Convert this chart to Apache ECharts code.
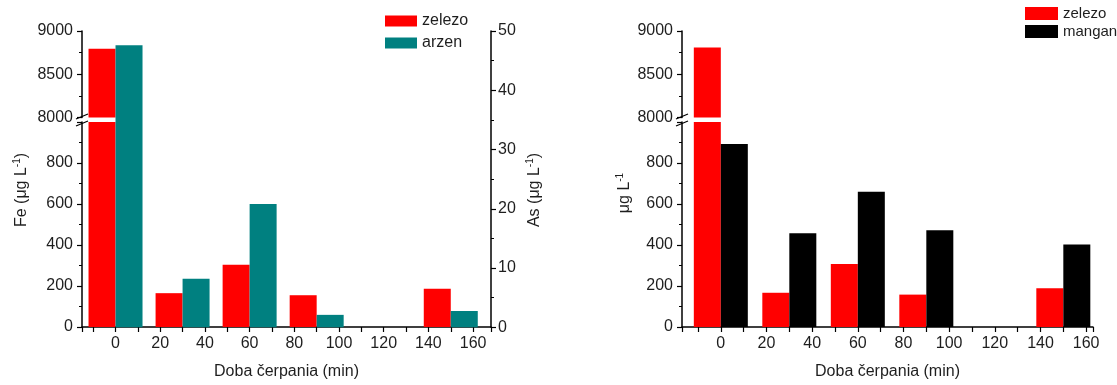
<!DOCTYPE html>
<html>
<head>
<meta charset="utf-8">
<title>zelezo / arzen / mangan</title>
<script src="https://cdn.jsdelivr.net/npm/echarts@6/dist/echarts.min.js"></script>
<style>
    html, body { margin: 0; padding: 0; background: #fff; }
    #chart { width: 1117px; height: 385px; }
</style>
</head>
<body>
<div id="chart"></div>
<script>
// 取样时间 (min)
const times = [0, 30, 60, 90, 120, 150];

// 左图: zelezo (Fe) + arzen (As)
const feLeft = [8795, 165, 304, 155, 0, 187];
const asLeft = [47.6, 8.2, 20.8, 2.1, 0, 2.75];

// 右图: zelezo (Fe) + mangan (Mn)
const feRight = [8810, 167, 307, 158, 0, 189];
const mnRight = [893, 457, 660, 472, 0, 403];

// 坐标轴范围 / 刻度 [min, max, interval]
const feUpperTicks = [8000, 9000, 500];
const feLowerTicks = [0, 1000, 200];
const asTicks = [0, 50, 10];
const xLabelStep = 20;

const FONT = 'Liberation Sans, Arial, sans-serif';
const TEXT = '#1e1e1e';
const RED = '#ff0000';
const TEAL = '#008080';

document.addEventListener('DOMContentLoaded', () => {
    initChart();
});

function pair(xs, ys) {
    return xs.map((x, i) => [x, ys[i]]);
}

function xAxisOf(gridIndex, min, max, visible) {
    return {
        type: 'value',
        gridIndex: gridIndex,
        min: min,
        max: max,
        minInterval: 10,
        maxInterval: 10,
        show: visible,
        name: 'Doba čerpania (min)',
        nameLocation: 'middle',
        nameGap: 37,
        nameTextStyle: { color: TEXT, fontSize: 16, fontFamily: FONT },
        axisLine: { onZero: false, lineStyle: { color: '#000', width: 1.5 } },
        axisTick: { length: 5, lineStyle: { color: '#000', width: 1.2 } },
        axisLabel: {
            color: TEXT,
            fontSize: 16,
            fontFamily: FONT,
            margin: 9,
            formatter: (v) => (v % xLabelStep === 0 ? String(v) : '')
        },
        splitLine: { show: false }
    };
}

function yAxisOf(gridIndex, ticks, position, hideMax) {
    return {
        type: 'value',
        gridIndex: gridIndex,
        position: position,
        min: ticks[0],
        max: ticks[1],
        interval: ticks[2],
        axisLine: { show: true, onZero: false, lineStyle: { color: '#000', width: 1.5 } },
        axisTick: { show: true, length: 5, lineStyle: { color: '#000', width: 1.2 } },
        minorTick: { show: true, splitNumber: 2, length: 3, lineStyle: { color: '#000', width: 1 } },
        axisLabel: {
            color: TEXT,
            fontSize: 16,
            fontFamily: FONT,
            margin: position === 'right' ? 7 : 9,
            formatter: (v) => (hideMax && v === ticks[1] ? '' : String(v))
        },
        splitLine: { show: false }
    };
}

function barOf(name, xi, yi, data, color) {
    return {
        name: name,
        type: 'bar',
        xAxisIndex: xi,
        yAxisIndex: yi,
        data: data,
        barWidth: 27,
        barGap: '0%',
        clip: true,
        itemStyle: { color: color },
        emphasis: { disabled: true }
    };
}

function axisTitle(x, y, text) {
    return {
        type: 'text',
        x: x,
        y: y,
        rotation: Math.PI / 2,
        style: {
            text: text,
            fill: TEXT,
            font: '16px ' + FONT,
            align: 'center',
            verticalAlign: 'middle',
            rich: {
                sup: { fontSize: 10, fontFamily: FONT, fill: TEXT, padding: [0, 0, 9, 0] }
            }
        }
    };
}

function breakMarks(axisX, yTop, yBottom) {
    const marks = [];
    [yTop, yBottom].forEach((y) => {
        marks.push({
            type: 'line',
            shape: { x1: axisX - 6, y1: y + 2.5, x2: axisX + 6, y2: y - 2.5 },
            style: { stroke: '#000', lineWidth: 1.2 }
        });
    });
    return marks;
}

function initChart() {
    const chartDom = document.getElementById('chart');
    const myChart = echarts.init(chartDom, null, { renderer: 'canvas' });

    const option = {
        backgroundColor: '#fff',
        animation: false,
        textStyle: { fontFamily: FONT },
        grid: [
            { left: 82, top: 31, width: 409, height: 86.5 },   // 左上 Fe
            { left: 82, top: 122, width: 409, height: 205.3 }, // 左下 Fe
            { left: 82, top: 31, width: 409, height: 296.3 },  // 左 As
            { left: 682, top: 31, width: 411, height: 86.5 },  // 右上
            { left: 682, top: 122, width: 411, height: 205.3 } // 右下
        ],
        xAxis: [
            xAxisOf(0, -15, 168, false),
            xAxisOf(1, -15, 168, true),
            xAxisOf(2, -15, 168, false),
            xAxisOf(3, -17, 163, false),
            xAxisOf(4, -17, 163, true)
        ],
        yAxis: [
            yAxisOf(0, feUpperTicks, 'left', false),
            yAxisOf(1, feLowerTicks, 'left', true),
            yAxisOf(2, asTicks, 'right', false),
            yAxisOf(3, feUpperTicks, 'left', false),
            yAxisOf(4, feLowerTicks, 'left', true)
        ],
        legend: [
            {
                data: ['zelezo', 'arzen'],
                orient: 'vertical',
                left: 380,
                top: 8,
                itemWidth: 32,
                itemHeight: 11,
                itemGap: 6,
                icon: 'rect',
                textStyle: { color: TEXT, fontSize: 16, fontFamily: FONT }
            },
            {
                data: ['zelezo', 'mangan'],
                orient: 'vertical',
                left: 1020,
                top: 1,
                itemWidth: 33,
                itemHeight: 13,
                itemGap: 3,
                icon: 'rect',
                textStyle: { color: TEXT, fontSize: 15, fontFamily: FONT }
            }
        ],
        series: [
            // 左图 —— 占位系列让柱子左右排开
            barOf('zelezo', 0, 0, pair(times, feLeft), RED),
            barOf('_pad0', 0, 0, [], 'transparent'),
            barOf('zelezo', 1, 1, pair(times, feLeft), RED),
            barOf('_pad1', 1, 1, [], 'transparent'),
            barOf('_pad2', 2, 2, [], 'transparent'),
            barOf('arzen', 2, 2, pair(times, asLeft), TEAL),
            // 右图
            barOf('zelezo', 3, 3, pair(times, feRight), RED),
            barOf('_pad3', 3, 3, [], 'transparent'),
            barOf('zelezo', 4, 4, pair(times, feRight), RED),
            barOf('mangan', 4, 4, pair(times, mnRight), '#000')
        ],
        graphic: [
            axisTitle(22, 190, 'Fe (μg L{sup|-1})'),
            axisTitle(535, 190, 'As (μg L{sup|-1})'),
            axisTitle(625, 193, 'μg L{sup|-1}')
        ].concat(breakMarks(82, 116.5, 123.5), breakMarks(682, 116.5, 123.5))
    };

    myChart.setOption(option);

    window.addEventListener('resize', () => {
        myChart.resize();
    });
}
</script>
</body>
</html>
